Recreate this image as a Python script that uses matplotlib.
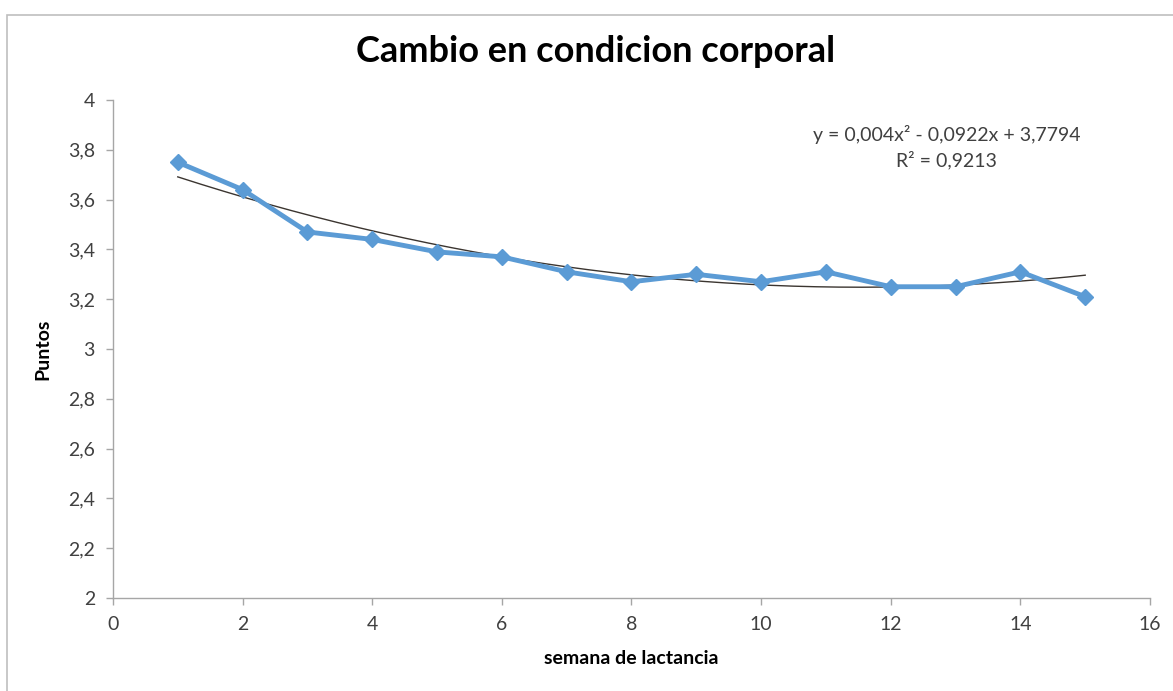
import numpy as np
import matplotlib
matplotlib.use("Agg")
import matplotlib.pyplot as plt
from matplotlib.ticker import FuncFormatter, MultipleLocator
from matplotlib.patches import Rectangle

plt.rcParams['font.family'] = ['Lato', 'DejaVu Sans']

semanas = [1, 2, 3, 4, 5, 6, 7, 8, 9, 10, 11, 12, 13, 14, 15]
puntos = [3.75, 3.64, 3.47, 3.44, 3.39, 3.37, 3.31, 3.27, 3.30, 3.27, 3.31, 3.25, 3.25, 3.31, 3.21]
coef = [0.004, -0.0922, 3.7794]
ecuacion = "y = 0,004x² - 0,0922x + 3,7794"
r2_texto = "R² = 0,9213"
titulo = "Cambio en condicion corporal"
xlabel = "semana de lactancia"
ylabel = "Puntos"

fig = plt.figure(figsize=(11.73, 6.91), dpi=100)
ax = fig.add_axes([0.0963, 0.1346, 0.8841, 0.7207])

# chart border
fig.patches.append(Rectangle((0.006, -0.01), 1.1, 1.0 - 0.011, transform=fig.transFigure,
                             fill=False, edgecolor='#bfbfbf', linewidth=1.2))

xt = np.linspace(semanas[0], semanas[-1], 200)
ax.plot(xt, np.polyval(coef, xt), color='#3b3530', linewidth=1.0, zorder=2)
ax.plot(semanas, puntos, color='#5b9bd5', linewidth=3.5, marker='D', markersize=8,
        markeredgecolor='#5b9bd5', zorder=3)

ax.set_xlim(0, 16)
ax.set_ylim(2, 4)
ax.xaxis.set_major_locator(MultipleLocator(2))
ax.yaxis.set_major_locator(MultipleLocator(0.2))
fmt = FuncFormatter(lambda v, p: ('%g' % round(v, 2)).replace('.', ','))
ax.xaxis.set_major_formatter(fmt)
ax.yaxis.set_major_formatter(fmt)

for s in ['top', 'right']:
    ax.spines[s].set_visible(False)
for s in ['left', 'bottom']:
    ax.spines[s].set_color('#a6a6a6')
    ax.spines[s].set_linewidth(1.0)
ax.tick_params(axis='both', colors='#a6a6a6', labelcolor='#404040', labelsize=14,
               length=5, width=1.0, direction='out')
ax.tick_params(axis='y', pad=8)
ax.tick_params(axis='x', pad=8)

ax.set_xlabel(xlabel, fontsize=14, fontweight='bold', color='#000000', labelpad=12)
ax.set_ylabel(ylabel, fontsize=14, fontweight='bold', color='#000000', labelpad=12)
fig.text(0.508, 0.925, titulo, ha='center', va='center', fontsize=26, fontweight='bold')

ax.text(0.804, 0.905, ecuacion + "\n" + r2_texto, transform=ax.transAxes, ha='center',
        va='center', fontsize=14, color='#404040', linespacing=1.45)

fig.savefig("out.png", dpi=100)
